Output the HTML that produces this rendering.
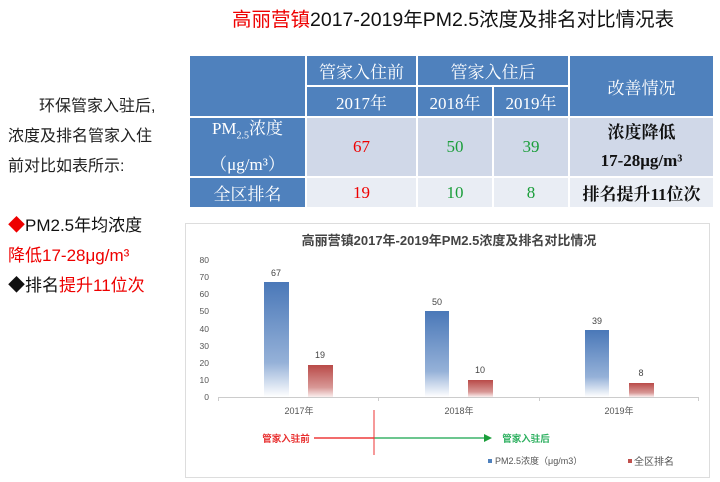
<!DOCTYPE html>
<html><head><meta charset="utf-8"><style>
body{margin:0;width:720px;height:482px;background:#fff;position:relative;overflow:hidden;font-family:"Liberation Sans","Noto Sans CJK SC",sans-serif}
.a{position:absolute;white-space:nowrap}
.c{position:absolute;display:flex;align-items:center;justify-content:center;text-align:center;font-family:"Liberation Serif","Noto Serif CJK SC",serif;font-size:17px}
.h{background:#4f81bd;color:#fff}
.r1{background:#d0d8e8}
.r2{background:#e9edf4}
</style></head><body>
<div class="a" style="left:232px;top:3px;font-size:19.5px;color:#111"><span style="color:#e00">高丽营镇</span>2017-2019年PM2.5浓度及排名对比情况表</div>
<div class="a" style="left:39px;top:92px;font-size:16px;color:#222">环保管家入驻后,</div>
<div class="a" style="left:8px;top:122px;font-size:16px;color:#222">浓度及排名管家入住</div>
<div class="a" style="left:8px;top:152px;font-size:16px;color:#222">前对比如表所示:</div>
<div class="a" style="left:8px;top:211px;font-size:17px;color:#111"><span style="color:#e00">◆</span>PM2.5年均浓度</div>
<div class="a" style="left:8px;top:241px;font-size:17px;color:#e00">降低17-28μg/m³</div>
<div class="a" style="left:8px;top:271px;font-size:17px;color:#111">◆排名<span style="color:#e00">提升11位次</span></div>

<div style="position:absolute;left:190px;top:55px;width:523px;height:153px;background:#fff"></div>
<div class="c h" style="left:190px;top:56px;width:115px;height:60px"></div>
<div class="c h" style="left:307px;top:56px;width:109px;height:29px">管家入住前</div>
<div class="c h" style="left:418px;top:56px;width:150px;height:29px">管家入住后</div>
<div class="c h" style="left:570px;top:56px;width:143px;height:60px">改善情况</div>
<div class="c h" style="left:307px;top:87px;width:109px;height:29px">2017年</div>
<div class="c h" style="left:418px;top:87px;width:74px;height:29px">2018年</div>
<div class="c h" style="left:494px;top:87px;width:74px;height:29px">2019年</div>
<div class="c h" style="left:190px;top:118px;width:115px;height:58px;line-height:28px;flex-direction:column"><div>PM<sub style="font-size:10px">2.5</sub>浓度</div><div>（μg/m³）</div></div>
<div class="c r1" style="left:307px;top:118px;width:109px;height:58px;color:#e00">67</div>
<div class="c r1" style="left:418px;top:118px;width:74px;height:58px;color:#1a9e3a">50</div>
<div class="c r1" style="left:494px;top:118px;width:74px;height:58px;color:#1a9e3a">39</div>
<div class="c r1" style="left:570px;top:118px;width:143px;height:58px;font-weight:bold;flex-direction:column;line-height:28px;color:#111"><div>浓度降低</div><div>17-28μg/m³</div></div>
<div class="c h" style="left:190px;top:178px;width:115px;height:29px">全区排名</div>
<div class="c r2" style="left:307px;top:178px;width:109px;height:29px;color:#e00">19</div>
<div class="c r2" style="left:418px;top:178px;width:74px;height:29px;color:#1a9e3a">10</div>
<div class="c r2" style="left:494px;top:178px;width:74px;height:29px;color:#1a9e3a">8</div>
<div class="c r2" style="left:570px;top:178px;width:143px;height:29px;font-weight:bold;color:#111">排名提升11位次</div>

<svg style="position:absolute;left:0;top:0" width="720" height="482">
<defs>
<linearGradient id="gb" x1="0" y1="0" x2="0" y2="1"><stop offset="0" stop-color="#4a78b8"/><stop offset="0.7" stop-color="#95b1d8"/><stop offset="1" stop-color="#ffffff"/></linearGradient>
<linearGradient id="gr" x1="0" y1="0" x2="0" y2="1"><stop offset="0" stop-color="#b94a48"/><stop offset="0.7" stop-color="#d89896"/><stop offset="1" stop-color="#fbeeee"/></linearGradient>
</defs>
<rect x="185.5" y="223.5" width="524" height="254" fill="#fff" stroke="#ddd"/>
<text x="449" y="245" text-anchor="middle" font-size="13" font-weight="bold" fill="#444" font-family="Liberation Sans,Noto Sans CJK SC,sans-serif">高丽营镇2017年-2019年PM2.5浓度及排名对比情况</text>
<g font-size="8.5" fill="#555" text-anchor="end" font-family="Liberation Sans,sans-serif">
<text x="209" y="400">0</text><text x="209" y="383">10</text><text x="209" y="366">20</text><text x="209" y="349">30</text><text x="209" y="332">40</text><text x="209" y="314">50</text><text x="209" y="297">60</text><text x="209" y="280">70</text><text x="209" y="263">80</text>
</g>
<line x1="218" y1="397.5" x2="699" y2="397.5" stroke="#ccc"/>
<g stroke="#ccc"><line x1="218.5" y1="397" x2="218.5" y2="401"/><line x1="378.5" y1="397" x2="378.5" y2="401"/><line x1="539.5" y1="397" x2="539.5" y2="401"/><line x1="698.5" y1="397" x2="698.5" y2="401"/></g>
<rect x="264" y="282" width="25" height="115" fill="url(#gb)"/>
<rect x="308" y="365" width="25" height="32" fill="url(#gr)"/>
<rect x="425" y="311" width="24" height="86" fill="url(#gb)"/>
<rect x="468" y="380" width="25" height="17" fill="url(#gr)"/>
<rect x="585" y="330" width="24" height="67" fill="url(#gb)"/>
<rect x="629" y="383" width="25" height="14" fill="url(#gr)"/>
<g font-size="9" fill="#444" text-anchor="middle" font-family="Liberation Sans,sans-serif">
<text x="276" y="276">67</text><text x="320" y="358">19</text><text x="437" y="305">50</text><text x="480" y="373">10</text><text x="597" y="324">39</text><text x="641" y="376">8</text>
</g>
<g font-size="9" fill="#555" text-anchor="middle" font-family="Liberation Sans,Noto Sans CJK SC,sans-serif">
<text x="299" y="414">2017年</text><text x="459" y="414">2018年</text><text x="619" y="414">2019年</text>
</g>
<line x1="314" y1="438" x2="374" y2="438" stroke="#ee3b3b" stroke-width="1.5"/>
<line x1="374" y1="438" x2="484" y2="438" stroke="#3cb46a" stroke-width="1.5"/>
<polygon points="484,434 492,438 484,442" fill="#1a9e3a"/>
<line x1="374" y1="410" x2="374" y2="455" stroke="#e33" stroke-width="1"/>
<text x="286" y="442" text-anchor="middle" font-size="9.5" font-weight="bold" fill="#e83030" font-family="Noto Sans CJK SC,sans-serif">管家入驻前</text>
<text x="526" y="442" text-anchor="middle" font-size="9.5" font-weight="bold" fill="#2eb060" font-family="Noto Sans CJK SC,sans-serif">管家入驻后</text>
<rect x="488" y="459" width="4" height="4" fill="#4f81bd"/>
<text x="495" y="464" font-size="9" fill="#555" font-family="Liberation Sans,Noto Sans CJK SC,sans-serif">PM2.5浓度（μg/m3）</text>
<rect x="628" y="459" width="4" height="4" fill="#c0504d"/>
<text x="634" y="465" font-size="10" fill="#555" font-family="Noto Sans CJK SC,sans-serif">全区排名</text>
</svg>
</body></html>
